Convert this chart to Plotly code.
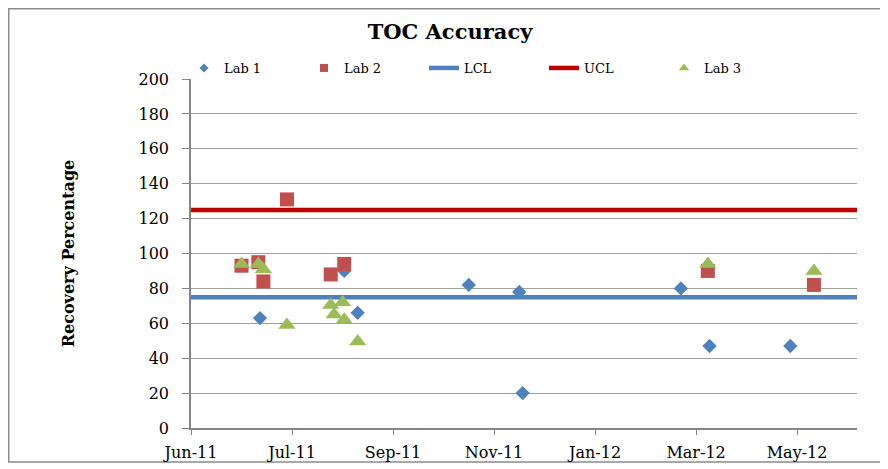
import plotly.graph_objects as go

# Lab results (date, recovery %)
lab1_dates = ["2011-07-12", "2011-08-31", "2011-09-08", "2011-11-13", "2011-12-13",
              "2011-12-15", "2012-03-18", "2012-04-04", "2012-05-22"]
lab1_vals = [63, 90, 66, 82, 78, 20, 80, 47, 47]

lab2_dates = ["2011-07-01", "2011-07-11", "2011-07-14", "2011-07-28", "2011-08-23",
              "2011-08-31", "2012-04-03", "2012-06-05"]
lab2_vals = [93, 95, 84, 131, 88, 94, 90, 82]

lab3_dates = ["2011-07-01", "2011-07-11", "2011-07-14", "2011-07-28", "2011-08-23",
              "2011-08-25", "2011-08-30", "2011-08-31", "2011-09-08", "2012-04-03",
              "2012-06-05"]
lab3_vals = [94, 94, 91, 59, 70.5, 65, 72, 62, 49.5, 94, 90]

lcl = 75
ucl = 125

x_start = "2011-06-01"
x_end = "2012-06-30 14:00"
tick_dates = ["2011-06-01", "2011-07-31", "2011-09-29", "2011-11-28",
              "2012-01-27", "2012-03-27", "2012-05-26"]
tick_labels = ["Jun-11", "Jul-11", "Sep-11", "Nov-11", "Jan-12", "Mar-12", "May-12"]

FONT = "DejaVu Serif"
GRID = "#a0a0a0"
AXIS = "#868686"
BLUE, RED, GREEN, DARKRED = "#4F81BD", "#C0504D", "#9BBB59", "#C00000"

fig = go.Figure()

fig.add_trace(go.Scatter(
    x=lab1_dates, y=lab1_vals, mode="markers", name="Lab 1", showlegend=False,
    marker=dict(symbol="diamond", size=11, color=BLUE),
))
fig.add_trace(go.Scatter(
    x=lab2_dates, y=lab2_vals, mode="markers", name="Lab 2", showlegend=False,
    marker=dict(symbol="square", size=14, color=RED),
))
fig.add_trace(go.Scatter(
    x=[x_start, x_end], y=[lcl, lcl], mode="lines", name="LCL", legendrank=3,
    line=dict(color=BLUE, width=4.5),
))
fig.add_trace(go.Scatter(
    x=[x_start, x_end], y=[ucl, ucl], mode="lines", name="UCL", legendrank=4,
    line=dict(color=DARKRED, width=4.5),
))
fig.add_trace(go.Scatter(
    x=lab3_dates, y=lab3_vals, mode="markers", name="Lab 3", showlegend=False,
    marker=dict(symbol="triangle-up", size=15, color=GREEN),
))

# legend entries use the smaller Excel-style legend markers
for name, sym, size, col, rank in [("Lab 1", "diamond", 7, BLUE, 1),
                                   ("Lab 2", "square", 8, RED, 2),
                                   ("Lab 3", "triangle-up", 9, GREEN, 5)]:
    fig.add_trace(go.Scatter(
        x=[None], y=[None], mode="markers", name=name, legendrank=rank,
        marker=dict(symbol=sym, size=size, color=col),
    ))

# page body has an 8px margin, so the figure is drawn 8px smaller and
# every position is shifted up/left by 8px
FW, FH = 880, 461
L, R, T, B = 183, 849, 71, 420
W, H = R - L, B - T

# outer chart border
fig.add_shape(
    type="rect", xref="paper", yref="paper",
    x0=(0.75 - L) / W, x1=(876 - L) / W,
    y0=(B - 454) / H, y1=(B - 0.75) / H,
    line=dict(color="#8c8c8c", width=1.5), fillcolor="rgba(0,0,0,0)",
    layer="below",
)

fig.update_layout(
    width=FW, height=FH,
    margin=dict(l=L, r=FW - R, t=T, b=FH - B),
    paper_bgcolor="white", plot_bgcolor="white",
    font=dict(family=FONT, color="black", size=16),
    title=dict(
        text="<b>TOC Accuracy</b>", x=442 / FW, xanchor="center",
        y=1 - 24 / FH, yanchor="middle",
        font=dict(family=FONT, size=21, color="black"),
    ),
    legend=dict(
        orientation="h", x=(176 - L) / W, xanchor="left",
        y=(B - 60) / H, yanchor="middle",
        entrywidth=75, entrywidthmode="pixels",
        font=dict(family=FONT, size=13, color="black"),
        bgcolor="rgba(0,0,0,0)", itemclick=False,
    ),
)

fig.update_xaxes(
    type="date", range=[x_start, x_end],
    tickvals=tick_dates, ticktext=tick_labels,
    showgrid=False, zeroline=False, automargin=False,
    showline=True, linecolor=AXIS, linewidth=1.5,
    ticks="outside", ticklen=5, tickcolor=AXIS,
    ticklabelstandoff=4,
    tickfont=dict(family=FONT, size=16, color="black"),
)
fig.update_yaxes(
    range=[0, 200], dtick=20, tick0=0,
    showgrid=True, gridcolor=GRID, gridwidth=1,
    zeroline=False, automargin=False,
    showline=True, linecolor=AXIS, linewidth=1.5,
    ticks="outside", ticklen=7, tickcolor=AXIS,
    ticklabelstandoff=10,
    tickfont=dict(family=FONT, size=16, color="black"),
    title=dict(text="<b>Recovery Percentage</b>", standoff=60,
               font=dict(family=FONT, size=16, color="black")),
)

fig.write_html("out.html")
